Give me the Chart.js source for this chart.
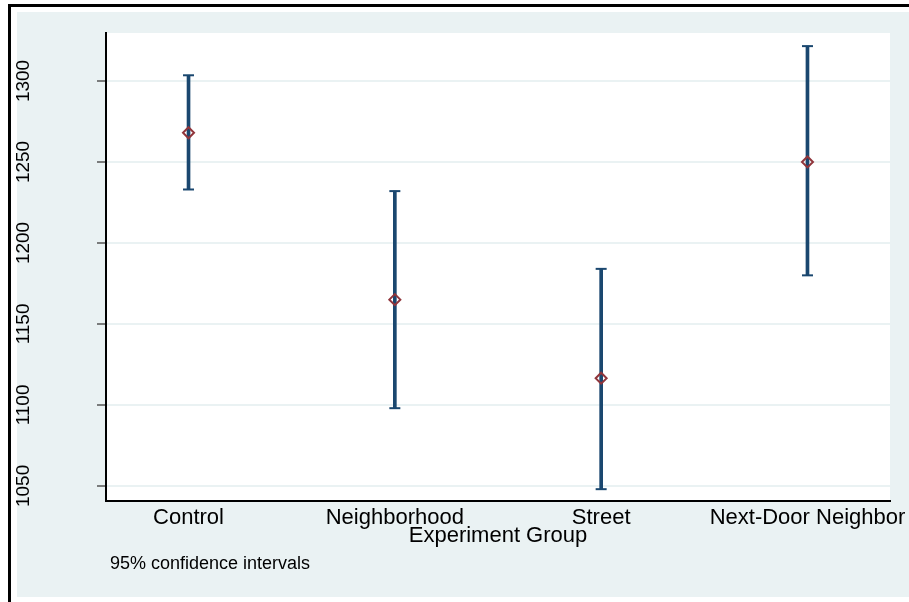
<!DOCTYPE html>
<html>
<head>
<meta charset="utf-8">
<script src="https://cdn.jsdelivr.net/npm/chart.js@4/dist/chart.umd.min.js"></script>
<style>
  body { margin: 0; background: #fff; }
  canvas { display: block; }
</style>
</head>
<body>
<canvas id="chart_main" width="909" height="602"></canvas>
<script>
"use strict";

// データ
const groups  = ['Control', 'Neighborhood', 'Street', 'Next-Door Neighbor'];
const means   = [1268, 1165, 1116.5, 1250];
const lower   = [1233, 1098, 1048, 1180];
const upper   = [1303.5, 1232, 1184, 1321.5];
const y_ticks = [1050, 1100, 1150, 1200, 1250, 1300];
const x_title = 'Experiment Group';
const note    = '95% confidence intervals';

const FONT  = '"Liberation Sans", Arial, sans-serif';
const NAVY  = '#1a476f';
const MAROON = '#90353b';
const BG    = '#eaf2f3';

const pos_X = groups.map((g, i) => i + 1);

// 背景・枠・縦目盛ラベル
const stataBg = {
  id: 'stataBg',
  beforeDraw(chart) {
    const c = chart.ctx, a = chart.chartArea;
    c.save();
    c.fillStyle = '#fff';
    c.fillRect(0, 0, chart.width, chart.height);
    c.fillStyle = '#000';
    c.fillRect(8, 4, chart.width - 8, 3);
    c.fillRect(8, 4, 3, chart.height - 4);
    c.fillStyle = BG;
    c.fillRect(17, 12, chart.width - 17, 585);
    c.fillStyle = '#fff';
    c.fillRect(a.left, a.top, a.right - a.left, a.bottom - a.top);
    c.restore();
  },
  afterDraw(chart) {
    const c = chart.ctx, y = chart.scales.y;
    c.save();
    c.fillStyle = '#000';
    c.font = '19px ' + FONT;
    c.textAlign = 'center';
    c.textBaseline = 'alphabetic';
    y_ticks.forEach(v => {
      c.save();
      c.translate(29, y.getPixelForValue(v));
      c.rotate(-Math.PI / 2);
      c.fillText(String(v), 0, 0);
      c.restore();
    });
    c.font = '18px ' + FONT;
    c.textAlign = 'left';
    c.fillText(note, 110, 569);
    c.restore();
  }
};

const ctx = document.getElementById('chart_main');
const chart = new Chart(ctx, {
  data: {
    datasets: [
      { // 平均
        type: 'scatter',
        order: 0,
        data: pos_X.map((x, i) => ({ x: x, y: means[i] })),
        pointStyle: 'rectRot',
        pointRadius: 5.5,
        borderWidth: 2,
        borderColor: MAROON,
        backgroundColor: 'rgba(0,0,0,0)',
      },
      { // キャップ
        type: 'scatter',
        order: 1,
        data: pos_X.map((x, i) => ({ x: x, y: lower[i] }))
              .concat(pos_X.map((x, i) => ({ x: x, y: upper[i] }))),
        pointStyle: 'line',
        pointRadius: 5.5,
        borderWidth: 2,
        borderColor: NAVY,
      },
      { // 信頼区間
        type: 'bar',
        order: 2,
        data: pos_X.map((x, i) => ({ x: x, y: [lower[i], upper[i]] })),
        barThickness: 3,
        backgroundColor: NAVY,
        borderWidth: 0,
      },
    ],
  },
  options: {
    responsive: false,
    animation: false,
    layout: { padding: { left: 0, top: 33, right: 19, bottom: 53 } },
    plugins: {
      legend: { display: false },
      tooltip: { enabled: false },
    },
    scales: {
      x: {
        type: 'linear',
        offset: false,
        min: 0.6,
        max: 4.4,
        afterBuildTicks: s => { s.ticks = pos_X.map(v => ({ value: v })); },
        afterFit: s => { s.height = 48; s.paddingLeft = 0; s.paddingRight = 0; },
        grid: { display: false, drawTicks: false, offset: false },
        border: { color: '#000', width: 2 },
        ticks: {
          padding: 4,
          color: '#000',
          font: { family: FONT, size: 22 },
          maxRotation: 0,
          autoSkip: false,
          callback: v => groups[v - 1],
        },
        title: {
          display: true,
          text: x_title,
          color: '#000',
          font: { family: FONT, size: 22 },
          padding: 0,
        },
      },
      y: {
        min: 1040.7,
        max: 1329.6,
        afterBuildTicks: s => { s.ticks = y_ticks.map(v => ({ value: v })); },
        afterFit: s => { s.width = 106; s.paddingTop = 0; s.paddingBottom = 0; },
        grid: {
          color: BG,
          lineWidth: 2,
          tickLength: 9,
          tickColor: '#555',
          tickWidth: 1.5,
        },
        border: { color: '#000', width: 2 },
        ticks: { display: false },
      },
    },
  },
  plugins: [stataBg],
});
</script>
</body>
</html>
